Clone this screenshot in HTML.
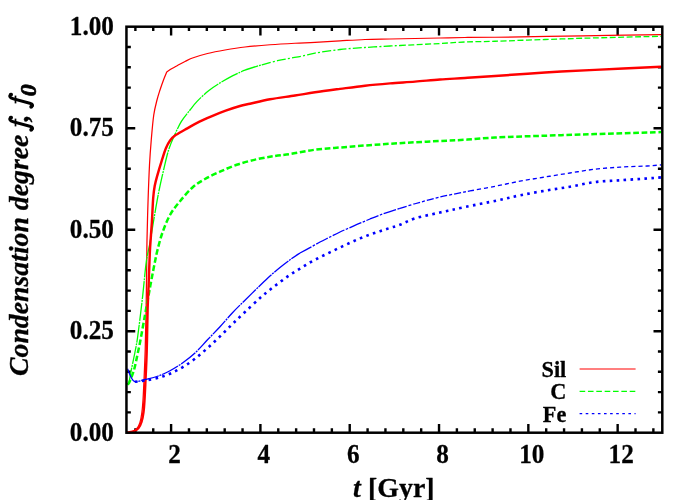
<!DOCTYPE html>
<html><head><meta charset="utf-8"><title>Condensation degree</title>
<style>
html,body{margin:0;padding:0;background:#fff;}
body{width:700px;height:500px;overflow:hidden;font-family:"Liberation Serif",serif;}
svg{display:block;}
</style></head><body>
<svg width="700" height="500" viewBox="0 0 700 500">
<rect width="700" height="500" fill="#fff"/>
<g stroke="#000" fill="none">
<path d="M135.38,432.7v-4.4 M135.38,26.7v4.4 M153.24,432.7v-4.4 M153.24,26.7v4.4 M171.10,432.7v-8.8 M171.10,26.7v8.8 M188.97,432.7v-4.4 M188.97,26.7v4.4 M206.83,432.7v-4.4 M206.83,26.7v4.4 M224.69,432.7v-4.4 M224.69,26.7v4.4 M242.55,432.7v-4.4 M242.55,26.7v4.4 M260.41,432.7v-8.8 M260.41,26.7v8.8 M278.27,432.7v-4.4 M278.27,26.7v4.4 M296.14,432.7v-4.4 M296.14,26.7v4.4 M314.00,432.7v-4.4 M314.00,26.7v4.4 M331.86,432.7v-4.4 M331.86,26.7v4.4 M349.72,432.7v-8.8 M349.72,26.7v8.8 M367.58,432.7v-4.4 M367.58,26.7v4.4 M385.44,432.7v-4.4 M385.44,26.7v4.4 M403.31,432.7v-4.4 M403.31,26.7v4.4 M421.17,432.7v-4.4 M421.17,26.7v4.4 M439.03,432.7v-8.8 M439.03,26.7v8.8 M456.89,432.7v-4.4 M456.89,26.7v4.4 M474.75,432.7v-4.4 M474.75,26.7v4.4 M492.61,432.7v-4.4 M492.61,26.7v4.4 M510.48,432.7v-4.4 M510.48,26.7v4.4 M528.34,432.7v-8.8 M528.34,26.7v8.8 M546.20,432.7v-4.4 M546.20,26.7v4.4 M564.06,432.7v-4.4 M564.06,26.7v4.4 M581.92,432.7v-4.4 M581.92,26.7v4.4 M599.78,432.7v-4.4 M599.78,26.7v4.4 M617.65,432.7v-8.8 M617.65,26.7v8.8 M635.51,432.7v-4.4 M635.51,26.7v4.4 M653.37,432.7v-4.4 M653.37,26.7v4.4 M126.45,412.40h4.4 M662.3,412.40h-4.4 M126.45,392.10h4.4 M662.3,392.10h-4.4 M126.45,371.80h4.4 M662.3,371.80h-4.4 M126.45,351.50h4.4 M662.3,351.50h-4.4 M126.45,331.20h8.8 M662.3,331.20h-8.8 M126.45,310.90h4.4 M662.3,310.90h-4.4 M126.45,290.60h4.4 M662.3,290.60h-4.4 M126.45,270.30h4.4 M662.3,270.30h-4.4 M126.45,250.00h4.4 M662.3,250.00h-4.4 M126.45,229.70h8.8 M662.3,229.70h-8.8 M126.45,209.40h4.4 M662.3,209.40h-4.4 M126.45,189.10h4.4 M662.3,189.10h-4.4 M126.45,168.80h4.4 M662.3,168.80h-4.4 M126.45,148.50h4.4 M662.3,148.50h-4.4 M126.45,128.20h8.8 M662.3,128.20h-8.8 M126.45,107.90h4.4 M662.3,107.90h-4.4 M126.45,87.60h4.4 M662.3,87.60h-4.4 M126.45,67.30h4.4 M662.3,67.30h-4.4 M126.45,47.00h4.4 M662.3,47.00h-4.4" stroke-width="2.4"/>
</g>
<g fill="none" stroke-linejoin="round">
<path d="M127.00,432.60 C127.92,432.40 130.87,432.07 132.50,431.40 C134.13,430.73 135.58,430.00 136.80,428.60 C138.02,427.20 139.02,425.42 139.80,423.00 C140.63,420.40 141.27,416.83 141.80,413.00 C142.33,409.17 142.65,405.21 143.00,400.00 C143.37,394.50 143.65,388.00 144.00,380.00 C144.37,371.67 144.85,361.67 145.20,350.00 C145.55,338.33 145.85,324.17 146.10,310.00 C146.35,295.83 146.55,276.67 146.70,265.00 C146.83,255.00 146.79,250.00 147.00,240.00 C147.22,229.58 147.58,215.00 148.00,202.50 C148.42,190.00 148.96,175.42 149.50,165.00 C150.02,154.99 150.54,148.33 151.25,140.00 C151.96,131.67 152.79,121.67 153.75,115.00 C154.62,108.92 155.96,104.17 157.00,100.00 C158.01,95.95 158.92,93.33 160.00,90.00 C161.08,86.67 162.38,83.00 163.50,80.00 C164.62,77.00 166.21,73.33 166.75,72.00 C167.62,71.42 170.21,69.58 172.00,68.50 C173.79,67.42 175.33,66.67 177.50,65.50 C179.67,64.33 182.50,62.75 185.00,61.50 C187.50,60.25 189.38,59.11 192.50,58.00 C196.25,56.67 202.08,54.83 207.50,53.50 C212.92,52.17 218.75,51.08 225.00,50.00 C231.25,48.92 237.50,47.88 245.00,47.00 C252.50,46.12 261.67,45.38 270.00,44.75 C278.33,44.12 287.50,43.63 295.00,43.25 C302.50,42.87 307.50,42.84 315.00,42.45 C322.50,42.06 331.67,41.39 340.00,40.90 C348.33,40.41 356.67,39.82 365.00,39.50 C373.33,39.18 381.67,39.17 390.00,39.00 C398.33,38.83 406.67,38.67 415.00,38.50 C423.33,38.33 431.67,38.17 440.00,38.00 C448.33,37.83 455.83,37.62 465.00,37.50 C474.17,37.38 483.00,37.41 495.00,37.25 C514.58,36.98 554.83,36.34 582.50,35.90 C610.17,35.46 647.92,34.82 661.00,34.60" stroke="#ff0000" stroke-width="1.25"/>
<path d="M127.50,384.50 C127.71,384.38 128.60,384.31 128.75,383.75 C129.38,381.33 130.26,375.29 131.30,370.00 C132.34,364.71 133.97,357.33 135.00,352.00 C136.03,346.67 136.72,343.64 137.50,338.00 C138.75,328.92 141.04,310.17 142.50,297.50 C143.96,284.83 145.00,271.17 146.25,262.00 C147.32,254.13 148.75,249.50 150.00,242.50 C151.25,235.50 152.29,228.42 153.75,220.00 C155.21,211.58 157.11,200.33 158.75,192.00 C160.39,183.67 161.96,177.00 163.60,170.00 C165.24,163.00 166.82,155.72 168.60,150.00 C170.38,144.28 172.17,140.47 174.30,135.70 C176.43,130.93 178.78,125.68 181.40,121.40 C184.02,117.12 187.38,113.33 190.00,110.00 C192.62,106.67 194.00,104.61 197.10,101.40 C200.20,98.18 204.78,93.78 208.60,90.70 C212.42,87.62 215.95,85.42 220.00,82.90 C224.05,80.38 229.57,77.37 232.90,75.60 C235.67,74.13 237.98,73.22 240.00,72.30 C241.99,71.40 242.94,70.82 245.00,70.10 C248.33,68.93 257.17,66.19 260.00,65.30 C260.79,65.05 261.67,64.86 262.00,64.77" stroke="#00ff00" stroke-width="1.3" stroke-dasharray="18 0.9 2 0.9"/>
<path d="M262.00,64.77 C264.58,64.10 272.83,61.78 277.50,60.70 C282.17,59.62 285.83,59.08 290.00,58.30 C294.17,57.52 298.33,56.87 302.50,56.00 C306.67,55.13 309.94,53.98 315.00,53.10 C321.25,52.02 331.67,50.43 340.00,49.50 C348.33,48.57 356.67,48.08 365.00,47.50 C373.33,46.92 384.17,46.33 390.00,46.00 C394.00,45.77 398.33,45.58 400.00,45.50" stroke="#00ff00" stroke-width="1.3" stroke-dasharray="9 2.2 2 2.2"/>
<path d="M400.00,45.50 C402.50,45.38 409.00,45.05 415.00,44.75 C421.67,44.42 431.67,43.96 440.00,43.50 C448.33,43.04 455.83,42.38 465.00,42.00 C474.17,41.62 483.00,41.62 495.00,41.25 C508.33,40.83 528.33,40.06 545.00,39.50 C561.67,38.94 575.67,38.43 595.00,37.90 C614.33,37.37 650.00,36.57 661.00,36.30" stroke="#00ff00" stroke-width="1.3" stroke-dasharray="5.9 2.5"/>
<path d="M127.50,384.50 C127.75,384.25 128.65,383.77 129.00,383.00 C130.08,380.58 132.50,375.17 134.00,370.00 C135.50,364.83 137.00,356.58 138.00,352.00 C138.83,348.21 139.28,346.32 140.00,342.50 C141.17,336.33 143.33,324.17 145.00,315.00 C146.67,305.83 148.42,296.00 150.00,287.50 C151.58,279.00 153.25,270.25 154.50,264.00 C155.62,258.38 156.17,255.25 157.50,250.00 C158.83,244.75 160.42,238.33 162.50,232.50 C164.58,226.67 167.08,220.21 170.00,215.00 C172.92,209.79 176.25,205.83 180.00,201.25 C183.75,196.67 188.33,191.21 192.50,187.50 C196.67,183.79 200.42,181.64 205.00,179.00 C209.58,176.36 214.58,174.07 220.00,171.65 C225.42,169.23 231.25,166.59 237.50,164.50 C243.75,162.41 251.25,160.52 257.50,159.10 C263.75,157.68 269.58,156.83 275.00,156.00 C280.42,155.17 284.03,155.04 290.00,154.10 C296.67,153.05 306.67,150.80 315.00,149.70 C323.33,148.60 331.67,148.20 340.00,147.50 C348.33,146.80 356.67,146.12 365.00,145.50 C373.33,144.88 381.67,144.29 390.00,143.75 C398.33,143.21 406.67,142.71 415.00,142.25 C423.33,141.79 431.67,141.42 440.00,141.00 C448.33,140.58 455.83,140.33 465.00,139.75 C474.17,139.17 482.98,138.11 495.00,137.50 C508.33,136.82 528.33,136.27 545.00,135.70 C561.67,135.13 575.67,134.70 595.00,134.10 C614.33,133.50 650.00,132.43 661.00,132.10" stroke="#00ff00" stroke-width="2.5" stroke-dasharray="5.7 2.65"/>
<path d="M127.00,432.60 C127.50,432.53 128.82,432.46 130.00,432.20 C131.23,431.93 132.98,431.70 134.40,431.00 C135.82,430.30 137.32,429.50 138.50,428.00 C139.68,426.50 140.70,424.56 141.50,422.00 C142.33,419.33 143.00,415.67 143.50,412.00 C144.00,408.33 144.20,404.81 144.50,400.00 C144.83,394.67 145.18,386.67 145.50,380.00 C145.82,373.33 146.15,366.67 146.40,360.00 C146.65,353.33 146.81,348.00 147.00,340.00 C147.20,331.67 147.33,319.17 147.60,310.00 C147.87,300.83 148.31,292.50 148.60,285.00 C148.89,277.50 149.10,271.25 149.35,265.00 C149.60,258.75 149.69,254.49 150.10,247.50 C150.52,240.42 151.33,230.75 151.85,222.50 C152.37,214.25 152.72,204.08 153.20,198.00 C153.58,193.18 153.98,189.87 154.70,186.00 C155.42,182.13 156.33,179.00 157.50,174.80 C158.67,170.60 160.30,165.23 161.70,160.80 C163.10,156.37 164.50,151.58 165.90,148.20 C167.24,144.96 168.58,142.60 170.10,140.50 C171.62,138.40 172.76,137.23 175.00,135.60 C177.45,133.82 181.12,131.92 184.80,129.80 C188.48,127.68 192.67,125.13 197.10,122.90 C201.53,120.67 206.63,118.43 211.40,116.40 C216.17,114.37 220.93,112.43 225.70,110.70 C230.47,108.97 235.95,107.15 240.00,106.00 C243.94,104.88 246.00,104.69 250.00,103.80 C255.00,102.68 262.50,100.67 270.00,99.30 C277.50,97.92 287.50,96.72 295.00,95.55 C302.50,94.38 307.50,93.41 315.00,92.30 C322.50,91.19 331.67,90.00 340.00,88.90 C348.33,87.80 356.67,86.62 365.00,85.70 C373.33,84.78 381.67,84.08 390.00,83.40 C398.33,82.73 406.67,82.30 415.00,81.65 C423.33,81.00 431.67,80.11 440.00,79.50 C448.33,78.89 455.83,78.58 465.00,78.00 C474.17,77.42 483.00,76.82 495.00,76.00 C508.33,75.08 528.33,73.53 545.00,72.50 C561.67,71.47 575.67,70.81 595.00,69.85 C614.33,68.89 650.00,67.27 661.00,66.75" stroke="#ff0000" stroke-width="2.45"/>
<path d="M127.50,368.75 C128.12,370.21 130.00,375.33 131.25,377.50 C132.38,379.46 132.76,381.42 135.00,381.75 C137.29,382.08 141.25,380.42 145.00,379.50 C148.75,378.58 153.33,377.71 157.50,376.25 C161.67,374.79 165.83,372.96 170.00,370.75 C174.17,368.54 178.33,365.96 182.50,363.00 C186.67,360.04 190.83,356.87 195.00,353.00 C199.17,349.13 203.33,344.17 207.50,339.80 C211.67,335.43 215.83,331.32 220.00,326.80 C224.17,322.28 228.33,317.13 232.50,312.70 C236.67,308.27 240.42,304.73 245.00,300.20 C249.58,295.67 255.83,289.53 260.00,285.50 C263.96,281.66 266.67,279.00 270.00,276.00 C273.33,273.00 276.67,270.20 280.00,267.50 C283.33,264.80 286.67,262.22 290.00,259.80 C293.33,257.38 298.33,254.13 300.00,253.00" stroke="#0000ff" stroke-width="1.3" stroke-dasharray="18 0.9 2 0.9"/>
<path d="M300.00,253.00 C300.00,253.00 300.00,253.00 300.00,253.00 C301.67,252.10 306.67,249.43 310.00,247.60 C313.33,245.77 316.67,243.77 320.00,242.00 C323.33,240.23 326.67,238.67 330.00,237.00 C333.33,235.33 336.67,233.57 340.00,232.00 C343.33,230.43 346.67,229.07 350.00,227.60 C353.33,226.13 356.67,224.63 360.00,223.20 C363.33,221.77 366.67,220.37 370.00,219.00 C373.33,217.63 376.67,216.23 380.00,215.00 C383.33,213.77 386.67,212.70 390.00,211.60 C393.33,210.50 398.33,208.93 400.00,208.40" stroke="#0000ff" stroke-width="1.3" stroke-dasharray="13 1.5 2.5 1.5"/>
<path d="M400.00,208.40 C400.00,208.40 400.00,208.40 400.00,208.40 C402.50,207.62 408.96,205.47 415.00,203.75 C421.67,201.85 431.67,198.97 440.00,197.00 C448.33,195.03 460.00,192.91 465.00,191.90 C466.99,191.50 469.17,191.12 470.00,190.97" stroke="#0000ff" stroke-width="1.3" stroke-dasharray="7 2 3 2"/>
<path d="M470.00,190.97 C474.17,190.19 486.67,187.93 495.00,186.30 C503.33,184.67 511.67,182.75 520.00,181.20 C528.33,179.65 536.67,178.37 545.00,177.00 C553.33,175.63 561.67,174.30 570.00,173.00 C578.33,171.70 586.67,170.18 595.00,169.20 C603.33,168.22 611.67,167.62 620.00,167.10 C628.33,166.58 638.17,166.47 645.00,166.10 C651.41,165.76 658.33,165.10 661.00,164.90" stroke="#0000ff" stroke-width="1.3" stroke-dasharray="4.1 3.0"/>
<path d="M135.00,381.75 C136.67,381.54 141.25,381.12 145.00,380.50 C148.75,379.88 153.33,379.12 157.50,378.00 C161.67,376.88 165.83,375.53 170.00,373.75 C174.17,371.97 178.33,369.79 182.50,367.30 C186.67,364.81 190.83,362.00 195.00,358.80 C199.17,355.60 203.33,351.83 207.50,348.10 C211.67,344.37 215.83,340.42 220.00,336.40 C224.17,332.38 228.33,328.07 232.50,324.00 C236.67,319.93 240.42,316.33 245.00,312.00 C249.58,307.67 255.83,301.72 260.00,298.00 C263.88,294.54 266.67,292.35 270.00,289.70 C273.33,287.05 276.67,284.58 280.00,282.10 C283.33,279.62 286.67,277.05 290.00,274.80 C293.33,272.55 296.67,270.65 300.00,268.60 C303.33,266.55 306.67,264.40 310.00,262.50 C313.33,260.60 316.67,258.90 320.00,257.20 C323.33,255.50 326.67,253.92 330.00,252.30 C333.33,250.68 336.67,249.08 340.00,247.50 C343.33,245.92 346.67,244.32 350.00,242.80 C353.33,241.28 356.67,239.78 360.00,238.40 C363.33,237.02 366.67,235.70 370.00,234.50 C373.33,233.30 376.67,232.30 380.00,231.20 C383.33,230.10 386.67,228.97 390.00,227.90 C393.33,226.83 396.09,226.29 400.00,224.80 C404.17,223.21 408.76,220.27 415.00,218.35 C421.67,216.30 431.67,214.39 440.00,212.50 C448.33,210.61 455.42,209.02 465.00,207.00 C474.58,204.98 488.33,202.35 497.50,200.40 C506.53,198.48 512.08,196.92 520.00,195.30 C527.92,193.68 536.67,192.13 545.00,190.70 C553.33,189.27 561.67,188.14 570.00,186.70 C578.33,185.26 586.67,183.12 595.00,182.05 C603.33,180.98 611.67,180.88 620.00,180.30 C628.33,179.73 638.17,179.08 645.00,178.60 C651.40,178.15 658.33,177.60 661.00,177.40" stroke="#0000ff" stroke-width="2.6" stroke-dasharray="2.6 4.35"/>
</g>
<g fill="none">
<path d="M579.6,369 H635.6" stroke="#ff0000" stroke-width="1.2"/>
<path d="M579.6,391.4 H635.6" stroke="#00ff00" stroke-width="1.2" stroke-dasharray="5.6 2.75"/>
<path d="M579.6,413.6 H635.6" stroke="#0000ff" stroke-width="1.2" stroke-dasharray="2.6 3.5"/>
</g>
<rect x="126.45" y="26.7" width="535.85" height="406.00" stroke="#000" fill="none" stroke-width="2.5"/>
<g font-family="Liberation Serif, serif" font-weight="bold" fill="#000" stroke="#000" stroke-width="0.3" stroke-linejoin="round" opacity="0.999">
<text transform="translate(113.90,440.50) scale(0.9,1)" font-size="28px" text-anchor="end">0.00</text>
<text transform="translate(113.90,339.00) scale(0.9,1)" font-size="28px" text-anchor="end">0.25</text>
<text transform="translate(113.90,237.50) scale(0.9,1)" font-size="28px" text-anchor="end">0.50</text>
<text transform="translate(113.90,136.00) scale(0.9,1)" font-size="28px" text-anchor="end">0.75</text>
<text transform="translate(113.90,34.50) scale(0.9,1)" font-size="28px" text-anchor="end">1.00</text>
<text transform="translate(174.60,462.80) scale(0.9,1)" font-size="28px" text-anchor="middle">2</text>
<text transform="translate(263.91,462.80) scale(0.9,1)" font-size="28px" text-anchor="middle">4</text>
<text transform="translate(353.22,462.80) scale(0.9,1)" font-size="28px" text-anchor="middle">6</text>
<text transform="translate(442.53,462.80) scale(0.9,1)" font-size="28px" text-anchor="middle">8</text>
<text transform="translate(531.84,462.80) scale(0.9,1)" font-size="28px" text-anchor="middle">10</text>
<text transform="translate(621.15,462.80) scale(0.9,1)" font-size="28px" text-anchor="middle">12</text>
<text transform="translate(566.30,377.00) scale(0.93,1)" font-size="24px" text-anchor="end">Sil</text>
<text transform="translate(566.30,399.40) scale(0.93,1)" font-size="24px" text-anchor="end">C</text>
<text transform="translate(566.30,421.60) scale(0.93,1)" font-size="24px" text-anchor="end">Fe</text>
<text transform="translate(353.00,496.50) scale(0.995,1)" font-size="28px" text-anchor="start"><tspan font-style="italic">t</tspan><tspan dx="0.4"> [Gyr]</tspan></text>
<g transform="translate(28,376) rotate(-90)" font-size="28px" font-style="italic">
<text transform="scale(0.992,1)">Condensation degree</text>
<g transform="translate(244,0)" fill="none" stroke="#000" stroke-linecap="round" stroke-linejoin="round">
<path d="M2.4,3.7 C3.3,5.1 5.0,4.7 5.7,2.0 L10.2,-14.6 C11.0,-17.7 12.6,-19.1 14.2,-17.7" stroke-width="3.0"/>
<path d="M5.6,-12.5 H13.4" stroke-width="1.7" stroke-linecap="butt"/>
<circle cx="2.2" cy="3.1" r="1.1" stroke-width="1.7"/><circle cx="14.4" cy="-17.0" r="1.1" stroke-width="1.7"/>
</g>
<text transform="translate(254.5,0)">,</text>
<g transform="translate(267,0)" fill="none" stroke="#000" stroke-linecap="round" stroke-linejoin="round">
<path d="M2.4,3.7 C3.3,5.1 5.0,4.7 5.7,2.0 L10.2,-14.6 C11.0,-17.7 12.6,-19.1 14.2,-17.7" stroke-width="3.0"/>
<path d="M5.6,-12.5 H13.4" stroke-width="1.7" stroke-linecap="butt"/>
<circle cx="2.2" cy="3.1" r="1.1" stroke-width="1.7"/><circle cx="14.4" cy="-17.0" r="1.1" stroke-width="1.7"/>
</g>
<text transform="translate(279.8,8.4) scale(1.06,1)" font-size="22.5px" stroke-width="0.7">0</text>
</g>
</g>
</svg>
</body></html>
